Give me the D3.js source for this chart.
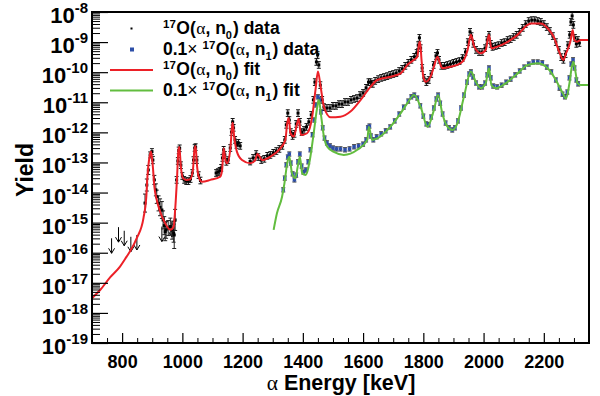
<!DOCTYPE html>
<html>
<head>
<meta charset="utf-8">
<script src="https://cdn.jsdelivr.net/npm/d3@7"></script>
<style>
  body { margin: 0; background: #fff; }
  svg { display: block; }
  text { font-family: "Liberation Sans", Arial, Helvetica, sans-serif; font-weight: bold; fill: #000; }
</style>
</head>
<body>
<svg id="chart" width="600" height="396"></svg>
<script>
// --- data (energy in keV, yield stored as log10) ---

// 17O(a,n0) fit
const n0Fit = [[700,-17.51],[727,-17.24],[760,-16.82],[793,-16.46],[815,-16.13],[826,-15.96],[849,-15.51],[871,-14.84],
  [880,-14.18],[884,-13.48],[891,-12.82],[896,-12.64],[902,-13.14],[907,-13.80],[915,-14.25],[926,-14.63],[943,-15.02],
  [960,-15.24],[971,-15.13],[976,-14.58],[982,-13.58],[987,-12.58],[990,-12.49],[995,-13.14],[1002,-13.52],[1013,-13.58],
  [1026,-13.56],[1035,-13.25],[1040,-12.58],[1044,-12.45],[1048,-13.03],[1054,-13.47],[1065,-13.64],[1093,-13.58],
  [1126,-13.47],[1132,-13.25],[1137,-12.53],[1143,-12.92],[1148,-13.03],[1159,-12.58],[1165,-11.81],[1167,-11.68],
  [1172,-12.14],[1181,-12.64],[1198,-12.92],[1226,-13.03],[1242,-12.92],[1249,-12.72],[1265,-12.92],[1292,-12.81],
  [1325,-12.53],[1342,-12.25],[1348,-11.70],[1353,-11.52],[1359,-12.03],[1370,-12.14],[1381,-11.70],[1386,-11.55],
  [1394,-12.09],[1414,-12.03],[1431,-11.48],[1442,-10.59],[1450,-9.98],[1459,-10.48],[1470,-11.15],[1492,-11.50],
  [1525,-11.48],[1558,-11.31],[1592,-10.92],[1625,-10.48],[1647,-10.26],[1691,-10.15],[1725,-10.04],[1747,-9.76],
  [1769,-9.59],[1780,-9.49],[1786,-9.04],[1789,-8.99],[1794,-9.59],[1800,-10.15],[1808,-10.32],[1824,-10.15],
  [1835,-9.82],[1847,-9.49],[1855,-9.70],[1863,-9.87],[1891,-9.82],[1924,-9.70],[1935,-9.59],[1947,-9.26],
  [1958,-8.76],[1969,-9.15],[1991,-9.37],[2007,-9.26],[2018,-8.76],[2026,-9.21],[2046,-9.15],[2080,-8.99],
  [2113,-8.76],[2146,-8.43],[2157,-8.38],[2190,-8.38],[2213,-8.54],[2235,-8.87],[2251,-9.32],[2265,-9.59],
  [2274,-9.37],[2288,-8.99],[2296,-8.60],[2301,-8.93],[2310,-8.99],[2323,-8.93],[2350,-8.93]];

// 0.1 x 17O(a,n1) fit
const n1Fit = [[1303,-15.24],[1314,-14.69],[1331,-14.14],[1339,-13.69],[1348,-13.03],[1355,-12.81],[1364,-13.36],
  [1375,-13.52],[1383,-13.14],[1390,-12.81],[1398,-13.36],[1409,-13.42],[1425,-12.81],[1436,-12.03],[1448,-11.15],
  [1453,-10.92],[1461,-11.48],[1470,-12.14],[1481,-12.48],[1503,-12.65],[1536,-12.75],[1581,-12.58],[1614,-12.25],
  [1619,-11.81],[1630,-12.25],[1647,-12.20],[1691,-11.81],[1725,-11.36],[1747,-11.03],[1769,-10.76],[1791,-11.15],
  [1814,-11.81],[1835,-11.26],[1849,-10.76],[1863,-11.37],[1880,-11.81],[1897,-11.92],[1913,-11.70],[1935,-10.81],
  [1958,-9.98],[1974,-10.32],[1991,-10.53],[2007,-10.37],[2018,-9.87],[2026,-10.43],[2041,-10.53],[2080,-10.32],
  [2113,-10.04],[2146,-9.76],[2179,-9.70],[2213,-9.87],[2240,-10.26],[2263,-10.70],[2274,-10.87],[2285,-10.37],
  [2293,-9.82],[2298,-9.65],[2305,-9.98],[2312,-10.37],[2323,-10.43],[2350,-10.43]];

// 17O(a,n0) data, low-yield points with visible errors [E, log10 Y, log10 error]
const n0Low = [[876,-14.35,0.30],[882,-13.75,0.20],[887,-13.25,0.15],[893,-12.75,0.10],[899,-12.64,0.10],
  [902,-12.92,0.12],[907,-13.58,0.15],[912,-13.91,0.20],[915,-14.14,0.22],[921,-14.36,0.25],[926,-14.49,0.28],
  [932,-14.58,0.28],[936,-14.91,0.30],[940,-15.10,0.30],[943,-15.30,0.30],[946,-15.24,0.28],[953,-15.18,0.25],
  [960,-15.13,0.28],[966,-15.25,0.30],[971,-15.35,0.30],[973,-15.41,0.45],[976,-14.91,0.35]];

// 17O(a,n0) upper limits [E, log10 Y]
const n0Limits = [[765,-15.52],[788,-15.15],[807,-15.27],[829,-15.47],[849,-15.41],[932,-15.13],[965,-14.98]];

// 17O(a,n0) data, main band [E, log10 Y]
const n0Data = [[981,-13.58],[985,-12.95],[988,-12.60],[991,-12.53],[995,-13.09],[1000,-13.45],[1006,-13.58],
  [1013,-13.62],[1020,-13.62],[1027,-13.55],[1033,-13.35],[1037,-12.92],[1041,-12.52],[1044,-12.49],[1048,-12.92],
  [1054,-13.42],[1060,-13.60],
  [1112,-13.35],[1118,-13.32],[1124,-13.28],[1129,-13.18],[1133,-12.85],[1137,-12.58],[1141,-12.75],[1146,-12.98],
  [1152,-12.92],[1159,-12.52],[1163,-11.99],[1167,-11.65],[1170,-11.85],[1175,-12.25],[1180,-12.42],[1186,-12.35],
  [1192,-12.45],
  [1225,-12.97],[1235,-12.85],[1245,-12.72],[1252,-12.82],[1262,-12.92],[1272,-12.88],[1282,-12.78],[1292,-12.75],
  [1302,-12.68],[1312,-12.62],[1322,-12.55],[1332,-12.45],[1340,-12.25],[1345,-11.75],[1350,-11.36],[1355,-11.59],
  [1360,-11.99],[1366,-12.12],[1372,-12.05],[1378,-11.72],[1384,-11.36],[1390,-11.65],[1396,-11.99],[1404,-11.92],
  [1412,-11.82],[1420,-11.65],[1428,-11.42],[1435,-10.92],[1440,-10.33],[1445,-9.66],[1449,-9.43],[1453,-9.76],
  [1458,-10.43],[1464,-10.92],[1470,-11.16],[1480,-11.19],[1490,-11.19],[1500,-11.12],[1510,-11.12],[1520,-11.06],
  [1530,-11.06],[1540,-10.99],[1550,-10.99],[1560,-10.92],[1570,-10.89],[1580,-10.86],[1590,-10.76],[1600,-10.69],
  [1610,-10.52],[1618,-10.33],[1625,-10.33],[1632,-10.39],[1640,-10.29],[1650,-10.23],[1660,-10.19],[1670,-10.16],
  [1680,-10.13],[1690,-10.09],[1700,-10.06],[1710,-10.03],[1720,-9.96],[1730,-9.89],[1740,-9.79],[1750,-9.69],
  [1760,-9.59],[1770,-9.49],[1778,-9.36],[1783,-9.10],[1787,-8.86],[1791,-9.20],[1796,-9.86],[1802,-10.19],
  [1810,-10.33],[1818,-10.26],[1826,-10.06],[1834,-9.76],[1842,-9.46],[1847,-9.36],[1852,-9.59],[1860,-9.79],
  [1870,-9.79],[1880,-9.76],[1890,-9.73],[1900,-9.69],[1910,-9.66],[1920,-9.63],[1930,-9.53],[1940,-9.33],
  [1948,-9.00],[1955,-8.66],[1960,-8.80],[1966,-9.06],[1975,-9.26],[1985,-9.33],[1995,-9.33],[2005,-9.20],
  [2012,-8.93],[2018,-8.76],[2024,-9.06],[2030,-9.16],[2040,-9.13],[2050,-9.10],[2060,-9.03],[2070,-9.00],
  [2080,-8.93],[2090,-8.90],[2100,-8.83],[2110,-8.76],[2120,-8.66],[2130,-8.53],[2140,-8.40],[2150,-8.30],
  [2160,-8.27],[2170,-8.27],[2180,-8.30],[2190,-8.33],[2200,-8.40],[2210,-8.50],[2220,-8.63],[2230,-8.80],
  [2240,-9.00],[2250,-9.26],[2258,-9.50],[2265,-9.59],[2272,-9.40],[2280,-9.10],[2286,-8.76],[2290,-8.33],
  [2294,-8.13],[2298,-8.43],[2303,-8.86],[2308,-9.06],[2313,-8.93],[2318,-9.03]];

// 0.1 x 17O(a,n1) data [E, log10 Y]
const n1Data = [[1335,-13.91],[1340,-13.52],[1345,-13.08],[1350,-12.82],[1355,-12.72],[1360,-13.02],[1366,-13.38],
  [1372,-13.58],[1378,-13.42],[1384,-12.98],[1390,-12.72],[1396,-13.12],[1402,-13.32],[1410,-13.25],[1418,-12.98],
  [1425,-12.58],[1432,-12.08],[1438,-11.59],[1444,-11.09],[1450,-10.82],[1455,-10.92],[1460,-11.32],[1466,-11.85],
  [1472,-12.19],[1480,-12.35],[1490,-12.45],[1500,-12.52],[1512,-12.55],[1525,-12.55],[1540,-12.58],[1555,-12.55],
  [1570,-12.48],[1585,-12.45],[1600,-12.39],[1610,-12.25],[1616,-11.85],[1621,-11.79],[1626,-12.12],[1634,-12.25],
  [1645,-12.15],[1660,-12.05],[1675,-11.95],[1690,-11.82],[1705,-11.62],[1720,-11.39],[1735,-11.16],[1750,-10.96],
  [1760,-10.82],[1770,-10.76],[1780,-10.86],[1790,-11.12],[1800,-11.46],[1810,-11.72],[1818,-11.75],[1826,-11.49],
  [1835,-11.19],[1843,-10.89],[1849,-10.76],[1856,-11.03],[1864,-11.39],[1874,-11.69],[1885,-11.85],[1896,-11.92],
  [1905,-11.85],[1915,-11.62],[1925,-11.19],[1935,-10.76],[1945,-10.33],[1952,-10.06],[1958,-9.99],[1965,-10.16],
  [1975,-10.36],[1985,-10.49],[1995,-10.49],[2005,-10.36],[2012,-10.09],[2018,-9.86],[2024,-10.19],[2032,-10.46],
  [2045,-10.49],[2060,-10.43],[2075,-10.33],[2090,-10.23],[2105,-10.09],[2120,-9.96],[2135,-9.83],[2150,-9.73],
  [2165,-9.66],[2180,-9.66],[2195,-9.69],[2210,-9.83],[2225,-9.99],[2240,-10.26],[2252,-10.53],[2262,-10.73],
  [2270,-10.82],[2278,-10.66],[2285,-10.19],[2291,-9.73],[2297,-9.59],[2302,-9.86],[2308,-10.26],[2314,-10.39]];

const xMajorTicks = [800, 1000, 1200, 1400, 1600, 1800, 2000, 2200];
const yDecades = [-19, -18, -17, -16, -15, -14, -13, -12, -11, -10, -9, -8];

const legendLabels = [
  { kind: "dot", pre: "", main: "O(", sub: "0", post: ") data" },
  { kind: "square", pre: "0.1\u00d7", main: "O(", sub: "1", post: ") data" },
  { kind: "red", pre: "", main: "O(", sub: "0", post: ") fit" },
  { kind: "green", pre: "0.1\u00d7", main: "O(", sub: "1", post: ") fit" }
];

// --- layout ---
const W = 600, H = 396;
const margin = { top: 12, right: 11, bottom: 53, left: 92 };

const RED = "#ec2027", GREEN = "#62bd3f", BLUE = "#2d4fa8";
const ERR_N0 = 0.11, ERR_N1 = 0.07;

const svg = d3.select("#chart");

const x = d3.scaleLinear().domain([700, 2350]).range([margin.left, W - margin.right]);
const y = d3.scaleLog().domain([1e-19, 1e-8]).range([H - margin.bottom, margin.top]);
const yv = v => y(Math.pow(10, v));

svg.append("defs").append("clipPath").attr("id", "plot")
  .append("rect")
  .attr("x", margin.left).attr("y", margin.top)
  .attr("width", W - margin.left - margin.right)
  .attr("height", H - margin.top - margin.bottom);

const plot = svg.append("g").attr("clip-path", "url(#plot)");

// upper limits
const lim = plot.append("g").attr("stroke", "#000").attr("stroke-width", 1).attr("fill", "none");
n0Limits.forEach(d => {
  const px = x(d[0]), py = yv(d[1]);
  lim.append("path").attr("d", `M${px},${py}V${py + 15}M${px - 3},${py + 10}L${px},${py + 15}L${px + 3},${py + 10}`);
});

// error bars + markers
function drawPoints(data, errOf, fill, errColor, size) {
  const g = plot.append("g");
  g.selectAll("path.err").data(data).join("path")
    .attr("stroke", errColor).attr("stroke-width", 1).attr("fill", "none")
    .attr("d", d => {
      const px = x(d[0]), e = errOf(d);
      const y0 = yv(d[1] - e), y1 = yv(d[1] + e);
      return `M${px},${y0}V${y1}M${px - 2},${y0}H${px + 2}M${px - 2},${y1}H${px + 2}`;
    });
  g.selectAll("rect").data(data).join("rect")
    .attr("x", d => x(d[0]) - size / 2).attr("y", d => yv(d[1]) - size / 2)
    .attr("width", size).attr("height", size).attr("fill", fill);
}

drawPoints(n0Low, d => d[2], "#000", "#222", 3);
drawPoints(n0Data, () => ERR_N0, "#000", "#111", 3);
drawPoints(n1Data, () => ERR_N1, BLUE, "#333", 3.5);

// fits
const line = d3.line().x(d => x(d[0])).y(d => yv(d[1])).curve(d3.curveMonotoneX);
plot.append("path").datum(n0Fit).attr("d", line)
  .attr("fill", "none").attr("stroke", RED).attr("stroke-width", 2);
plot.append("path").datum(n1Fit).attr("d", line)
  .attr("fill", "none").attr("stroke", GREEN).attr("stroke-width", 2);

// --- axes ---
const xAxis = svg.append("g").attr("transform", `translate(0,${H - margin.bottom})`)
  .call(d3.axisBottom(x).tickValues(xMajorTicks).tickSize(-10).tickPadding(12).tickFormat(d3.format("d")));
xAxis.select(".domain").remove();
xAxis.selectAll("line").attr("stroke", "#000").attr("stroke-width", 1.2);
xAxis.selectAll("text").attr("font-size", 18).attr("font-family", null).attr("fill", "#000");

const xMinor = d3.range(700, 2351, 50).filter(v => v % 200 !== 0);
svg.append("g").attr("transform", `translate(0,${H - margin.bottom})`)
  .call(d3.axisBottom(x).tickValues(xMinor).tickSize(-5).tickFormat(""))
  .call(g => g.select(".domain").remove())
  .selectAll("line").attr("stroke", "#000");

const yMajor = yDecades.map(d => Math.pow(10, d));
const yMinor = [];
yDecades.slice(0, -1).forEach(d => { for (let m = 2; m <= 9; m++) yMinor.push(m * Math.pow(10, d)); });

svg.append("g").attr("transform", `translate(${margin.left},0)`)
  .call(d3.axisLeft(y).tickValues(yMajor).tickSize(-16).tickFormat(""))
  .call(g => g.select(".domain").remove())
  .selectAll("line").attr("stroke", "#000").attr("stroke-width", 1.2);
svg.append("g").attr("transform", `translate(${margin.left},0)`)
  .call(d3.axisLeft(y).tickValues(yMinor).tickSize(-8).tickFormat(""))
  .call(g => g.select(".domain").remove())
  .selectAll("line").attr("stroke", "#000");

// y tick labels as 10^n
const yl = svg.append("g");
yDecades.forEach(d => {
  const t = yl.append("text").attr("x", margin.left - 4).attr("y", y(Math.pow(10, d)) + 11)
    .attr("text-anchor", "end");
  t.append("tspan").attr("font-size", 22).text("10");
  t.append("tspan").attr("font-size", 15).attr("dy", -10).text(String(d));
});

// frame
svg.append("rect")
  .attr("x", margin.left).attr("y", margin.top)
  .attr("width", W - margin.left - margin.right)
  .attr("height", H - margin.top - margin.bottom)
  .attr("fill", "none").attr("stroke", "#000").attr("stroke-width", 2);

// axis titles
const xt = svg.append("text").attr("x", 341).attr("y", 390)
  .attr("text-anchor", "middle").attr("font-size", 21.5);
xt.append("tspan").attr("font-family", "'Liberation Serif', serif").attr("font-weight", "normal").text("\u03b1");
xt.append("tspan").text(" Energy [keV]");

svg.append("text").attr("transform", "translate(33,170) rotate(-90)")
  .attr("text-anchor", "middle").attr("font-size", 23).text("Yield");

// --- legend ---
const legend = svg.append("g");
const rowY = [28.5, 49.5, 70, 90.5];
legendLabels.forEach((item, i) => {
  const cy = rowY[i];
  if (item.kind === "dot") {
    legend.append("rect").attr("x", 130.5).attr("y", cy - 1).attr("width", 2).attr("height", 2).attr("fill", "#000");
  } else if (item.kind === "square") {
    legend.append("rect").attr("x", 130).attr("y", cy - 2).attr("width", 4).attr("height", 4).attr("fill", BLUE);
  } else {
    legend.append("line").attr("x1", 110).attr("x2", 153).attr("y1", cy).attr("y2", cy)
      .attr("stroke", item.kind === "red" ? RED : GREEN).attr("stroke-width", 2);
  }
  const t = legend.append("text").attr("x", 163).attr("y", cy + 5).attr("font-size", 17.5);
  if (item.pre) {
    t.append("tspan").text("0.1");
    t.append("tspan").attr("font-weight", "normal").text("\u00d7");
  }
  t.append("tspan").attr("font-size", 11.5).attr("dy", -6).attr("dx", item.pre ? 5 : 0).text("17");
  t.append("tspan").attr("dy", 6).attr("dx", 0.5).text(item.main);
  t.append("tspan").attr("font-family", "'Liberation Serif', serif").attr("font-weight", "normal").attr("dx", 0.5).text("\u03b1");
  t.append("tspan").text(", n");
  t.append("tspan").attr("font-size", 11).attr("dy", 5).text(item.sub);
  t.append("tspan").attr("dy", -5).attr("dx", 1).text(item.post);
});
</script>
</body>
</html>
